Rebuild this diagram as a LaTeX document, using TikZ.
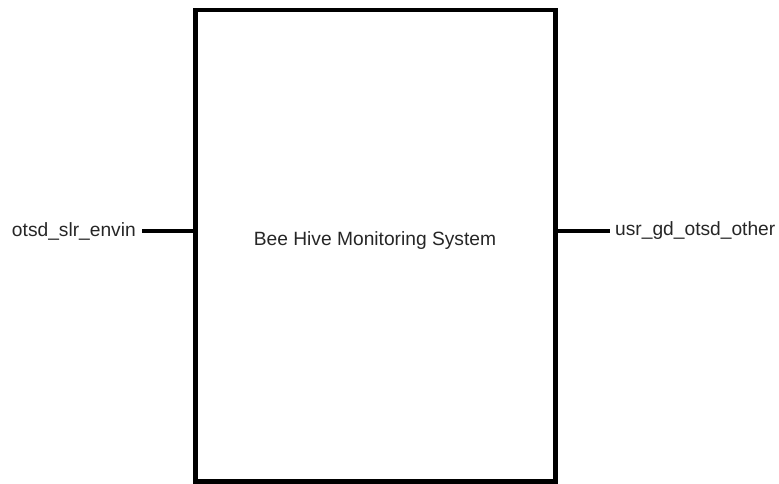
\documentclass[tikz,border=0pt]{standalone}
\usepackage{fontspec}
\setmainfont{Liberation Sans}
\usetikzlibrary{calc}
\begin{document}
\begin{tikzpicture}[x=1pt,y=-1pt,
  sysbox/.style={draw=black,line width=4.5pt,minimum width=360pt,minimum height=471.5pt,inner sep=0pt,outer sep=0pt,anchor=north west},
  port/.style={font=\fontsize{19.2}{23}\selectfont,text=black!85,inner sep=0pt},
  wire/.style={line width=3.2pt}]
\useasboundingbox (0,0) rectangle (779,483);
\node[sysbox] (sys) at (195.5,10) {};
\node[port,anchor=base] (title) at (375,245.7) {Bee Hive Monitoring System};
\coordinate (lin) at (195.5,231);
\coordinate (rin) at (555.5,231);
\node[port,anchor=east] (inp) at (136,231) {otsd\_slr\_envin};
\node[port,anchor=west] (out) at (615,231) {usr\_gd\_otsd\_other};
\draw[wire] ($(inp.east)+(6,0)$) -- (lin);
\draw[wire] (rin) -- ($(out.west)+(-5,0)$);
\end{tikzpicture}
\end{document}
